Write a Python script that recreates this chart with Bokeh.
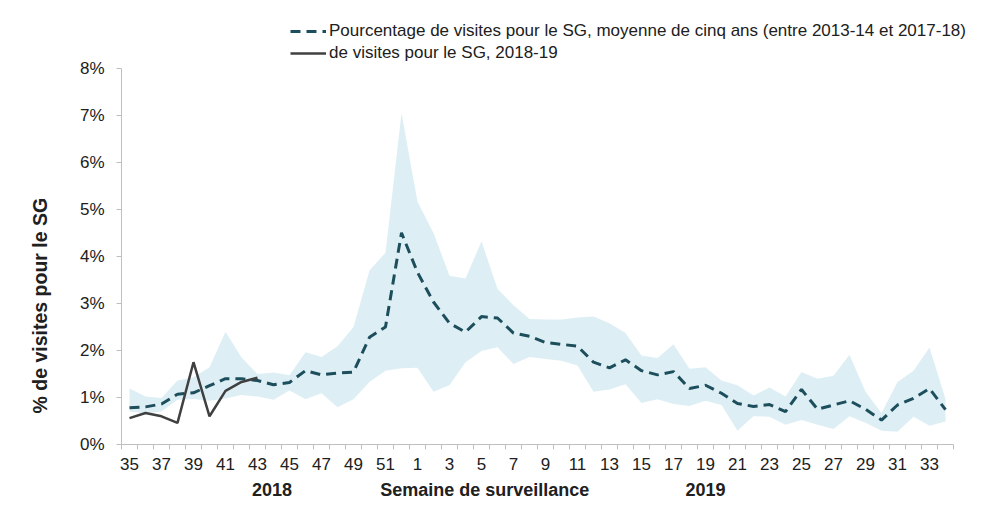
import math
from bokeh.plotting import figure
from bokeh.models import (Range1d, FixedTicker, Legend, LegendItem, LinearAxis,
                          ColumnDataSource, Title)
from bokeh.embed import file_html
from bokeh.resources import INLINE

# --- data -------------------------------------------------------------
weeks = list(range(35, 53)) + list(range(1, 35))
idx = list(range(len(weeks)))

mean_5y = [0.78, 0.80, 0.86, 1.07, 1.10, 1.25, 1.40, 1.40, 1.36, 1.27,
           1.32, 1.57, 1.48, 1.52, 1.54, 2.28, 2.50, 4.50, 3.66, 3.03,
           2.58, 2.39, 2.72, 2.69, 2.37, 2.30, 2.17, 2.13, 2.09, 1.75,
           1.63, 1.80, 1.57, 1.48, 1.55, 1.19, 1.26, 1.09, 0.87, 0.81,
           0.85, 0.70, 1.17, 0.75, 0.84, 0.93, 0.75, 0.52, 0.84, 0.98,
           1.19, 0.74]

upper_5y = [1.19, 1.02, 0.99, 1.36, 1.43, 1.64, 2.40, 1.85, 1.50, 1.53,
            1.47, 1.96, 1.86, 2.09, 2.50, 3.70, 4.08, 7.05, 5.16, 4.50,
            3.59, 3.53, 4.32, 3.31, 2.96, 2.67, 2.66, 2.66, 2.70, 2.72,
            2.58, 2.37, 1.89, 1.84, 2.13, 1.61, 1.64, 1.36, 1.26, 1.04,
            1.21, 1.02, 1.54, 1.40, 1.46, 1.91, 1.12, 0.67, 1.33, 1.57,
            2.06, 0.97]

lower_5y = [0.70, 0.66, 0.70, 0.95, 0.97, 0.93, 0.98, 1.05, 1.02, 0.95,
            1.15, 0.96, 1.09, 0.79, 0.96, 1.33, 1.57, 1.62, 1.63, 1.12,
            1.26, 1.75, 1.99, 2.07, 1.71, 1.86, 1.82, 1.78, 1.68, 1.12,
            1.17, 1.28, 0.88, 0.96, 0.86, 0.82, 0.93, 0.84, 0.29, 0.60,
            0.59, 0.42, 0.52, 0.42, 0.33, 0.60, 0.46, 0.29, 0.27, 0.59,
            0.40, 0.49]

current = [0.56, 0.67, 0.60, 0.46, 1.75, 0.60, 1.14, 1.33, 1.42]

y_ticks = list(range(0, 9))
y_tick_labels = [f"{v}%" for v in y_ticks]

label_mean = "Pourcentage de visites pour le SG, moyenne de cinq ans (entre 2013-14 et 2017-18)"
label_cur = "de visites pour le SG, 2018-19"
y_title = "% de visites pour le SG"
bottom_texts = ["2018", "Semaine de surveillance", "2019"]

# --- figure -----------------------------------------------------------
FONT = "Liberation Sans"
TXT = "#202020"
AXC = "#BFBFBF"
Y_TOP = 452 / 47.875          # frame reaches the canvas top; 8% stays at y=69
X_END = -0.5 + (978 - 121) / 16  # frame reaches the canvas right edge

p = figure(width=978, height=502, output_backend="svg", toolbar_location=None,
           x_range=Range1d(-0.5, X_END), y_range=Range1d(0, Y_TOP),
           min_border_left=121, min_border_right=0,
           min_border_top=0, min_border_bottom=50)
p.outline_line_color = None
p.xgrid.grid_line_color = None
p.ygrid.grid_line_color = None

src_band = ColumnDataSource(dict(x=idx, lo=lower_5y, hi=upper_5y, m=mean_5y))
p.varea(x="x", y1="lo", y2="hi", source=src_band, fill_color="#DDEFF5")
r_mean = p.line(x="x", y="m", source=src_band, line_color="#1D4E5C",
                line_width=3, line_dash="10 6")
src_cur = ColumnDataSource(dict(x=idx[:len(current)], y=current))
r_cur = p.line(x="x", y="y", source=src_cur, line_color="#404040", line_width=2.5)

# x axis
xa = p.xaxis[0]
xa.bounds = (-0.5, 51.5)
xa.ticker = FixedTicker(ticks=list(range(0, 52, 2)),
                        minor_ticks=[i - 0.5 for i in range(53)])
xa.major_label_overrides = {i: str(weeks[i]) for i in range(0, 52, 2)}
xa.major_tick_out = 0
xa.major_tick_in = 0
xa.minor_tick_out = 5
xa.minor_tick_in = 0
xa.minor_tick_line_color = AXC
xa.axis_line_color = AXC
xa.major_label_standoff = 8
xa.major_label_text_font = FONT
xa.major_label_text_font_size = "17px"
xa.major_label_text_color = TXT

# y axis
ya = p.yaxis[0]
ya.bounds = (0, 8)
ya.ticker = FixedTicker(ticks=y_ticks, minor_ticks=[])
ya.major_label_overrides = {v: s for v, s in zip(y_ticks, y_tick_labels)}
ya.major_tick_out = 5
ya.major_tick_in = 0
ya.major_tick_line_color = AXC
ya.minor_tick_out = 0
ya.minor_tick_in = 0
ya.axis_line_color = AXC
ya.major_label_standoff = 12
ya.major_label_text_font = FONT
ya.major_label_text_font_size = "17px"
ya.major_label_text_color = TXT

# y title
p.add_layout(Title(text=y_title, align="left", offset=31, standoff=52,
                   text_font=FONT, text_font_size="19.5px", text_font_style="bold",
                   text_color=TXT), "left")

# extra axis carrying the bottom texts
bx = [8.9, 22.2, 36.0]
b_axis = LinearAxis(ticker=FixedTicker(ticks=bx, minor_ticks=[]),
                    major_label_overrides={x: t for x, t in zip(bx, bottom_texts)},
                    axis_line_color=None, major_tick_line_color=None,
                    minor_tick_line_color=None,
                    major_label_standoff=1,
                    major_label_text_font=FONT,
                    major_label_text_font_size="18px",
                    major_label_text_font_style="bold",
                    major_label_text_color=TXT)
p.add_layout(b_axis, "below")

legend = Legend(items=[LegendItem(label=label_mean, renderers=[r_mean]),
                       LegendItem(label=label_cur, renderers=[r_cur])],
                location=(169, 381), orientation="vertical",
                border_line_color=None, background_fill_alpha=0,
                padding=0, margin=0, spacing=2, glyph_width=36, glyph_height=20,
                label_height=20, label_standoff=3,
                label_text_font=FONT, label_text_font_size="17px",
                label_text_color=TXT)
p.add_layout(legend)

open("out.html", "w").write(file_html(p, INLINE))
